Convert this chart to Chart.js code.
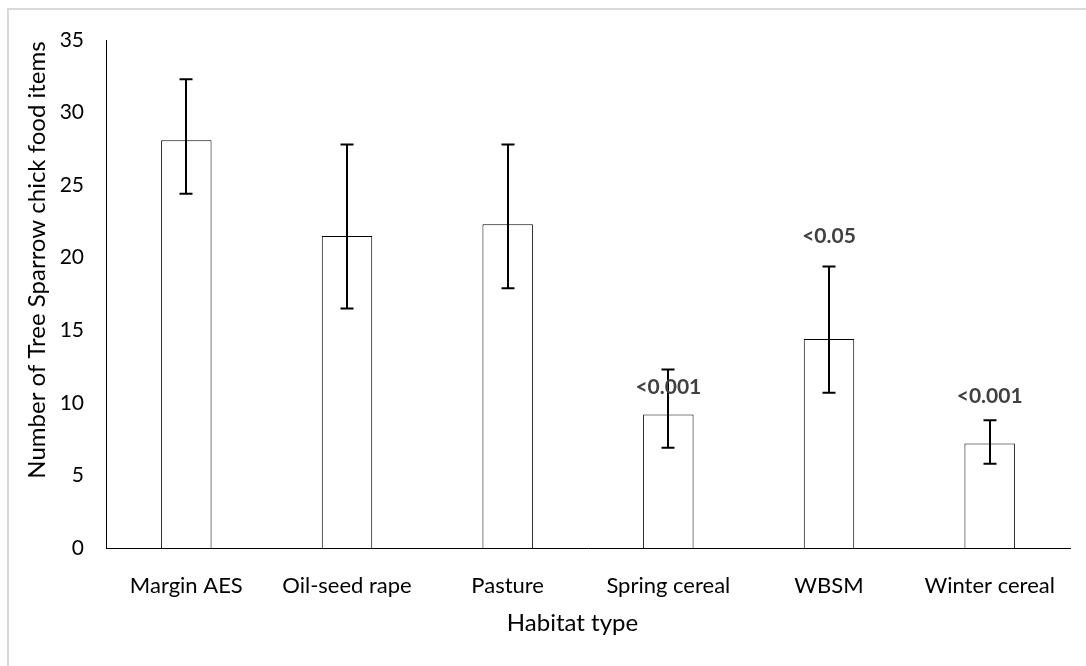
<!DOCTYPE html>
<html>
<head>
<meta charset="utf-8">
<script src="https://cdn.jsdelivr.net/npm/chart.js@4.4.1/dist/chart.umd.min.js"></script>
<style>
  html, body { margin: 0; padding: 0; background: #fff; }
  #wrap { position: absolute; left: 0; top: 0; width: 1086px; height: 666px; }
</style>
</head>
<body>
<div id="wrap"><canvas id="c" width="1086" height="666"></canvas></div>
<script>
// ---- data ----
const categories = ['Margin AES', 'Oil-seed rape', 'Pasture', 'Spring cereal', 'WBSM', 'Winter cereal'];
const means      = [28.1, 21.5, 22.3, 9.2, 14.4, 7.2];
const errUpper   = [32.3, 27.8, 27.8, 12.3, 19.4, 8.8];
const errLower   = [24.4, 16.5, 17.9, 6.9, 10.7, 5.8];
const pLabels    = ['', '', '', '<0.001', '<0.05', '<0.001'];
const pLabelAt   = [null, null, null, 11.05, 21.45, 10.45];
const yMin = 0, yMax = 35, yStep = 5;
const xTitle = 'Habitat type';
const yTitle = 'Number of Tree Sparrow chick food items';

const FONT = 'Lato, "Open Sans", sans-serif';

const framePlugin = {
  id: 'frame',
  beforeDraw(chart) {
    const ctx = chart.ctx;
    ctx.save();
    ctx.fillStyle = '#fff';
    ctx.fillRect(0, 0, chart.width, chart.height);
    ctx.fillStyle = '#d9d9d9';
    ctx.fillRect(7, 8, chart.width - 7, 2);
    ctx.fillRect(7, 8, 2, chart.height - 8);
    ctx.restore();
  }
};

const errorBarPlugin = {
  id: 'errorBars',
  afterDatasetsDraw(chart) {
    const ctx = chart.ctx;
    const meta = chart.getDatasetMeta(0);
    const ys = chart.scales.y;
    ctx.save();
    ctx.strokeStyle = '#000';
    ctx.lineWidth = 2;
    meta.data.forEach((bar, i) => {
      const x = Math.round(bar.x);
      const yu = ys.getPixelForValue(errUpper[i]);
      const yl = ys.getPixelForValue(errLower[i]);
      const cap = 6.5;
      ctx.beginPath();
      ctx.moveTo(x, yu); ctx.lineTo(x, yl);
      ctx.moveTo(x - cap, yu); ctx.lineTo(x + cap, yu);
      ctx.moveTo(x - cap, yl); ctx.lineTo(x + cap, yl);
      ctx.stroke();
    });
    // p-value labels
    ctx.fillStyle = '#404040';
    ctx.font = 'bold 21px ' + FONT;
    ctx.textAlign = 'center';
    ctx.textBaseline = 'middle';
    meta.data.forEach((bar, i) => {
      if (!pLabels[i]) return;
      ctx.fillText(pLabels[i], bar.x, ys.getPixelForValue(pLabelAt[i]));
    });
    ctx.restore();
  },
  afterDraw(chart) {
    const ctx = chart.ctx;
    ctx.save();
    ctx.fillStyle = '#000';
    ctx.textAlign = 'center';
    ctx.textBaseline = 'middle';
    // x-axis title
    ctx.font = '24px ' + FONT;
    ctx.fillText(xTitle, 572.5, 623);
    // y-axis title
    ctx.translate(37.5, 260);
    ctx.rotate(-Math.PI / 2);
    ctx.font = '24px ' + FONT;
    ctx.fillText(yTitle, 0, 0);
    ctx.restore();
  }
};

new Chart(document.getElementById('c'), {
  type: 'bar',
  data: {
    labels: categories,
    datasets: [{
      data: means,
      backgroundColor: '#ffffff',
      borderColor: '#000000',
      borderWidth: 1,
      barPercentage: 0.314,
      categoryPercentage: 1.0
    }]
  },
  options: {
    responsive: false,
    devicePixelRatio: 1,
    animation: false,
    layout: { padding: { top: 40, right: 16, left: 0, bottom: 0 } },
    plugins: { legend: { display: false }, tooltip: { enabled: false } },
    scales: {
      x: {
        type: 'category',
        offset: true,
        grid: { display: false, drawTicks: false },
        border: { display: true, color: '#000', width: 1 },
        ticks: { color: '#000', font: { family: FONT, size: 22 }, padding: 25, maxRotation: 0, autoSkip: false },
        afterFit(s) { s.height = 118; }
      },
      y: {
        min: yMin, max: yMax,
        grid: { display: false, drawTicks: false },
        border: { display: true, color: '#000', width: 1 },
        ticks: { stepSize: yStep, color: '#000', font: { family: FONT, size: 21 }, padding: 22 },
        afterFit(s) { s.width = 106; }
      }
    }
  },
  plugins: [framePlugin, errorBarPlugin]
});
</script>
</body>
</html>
